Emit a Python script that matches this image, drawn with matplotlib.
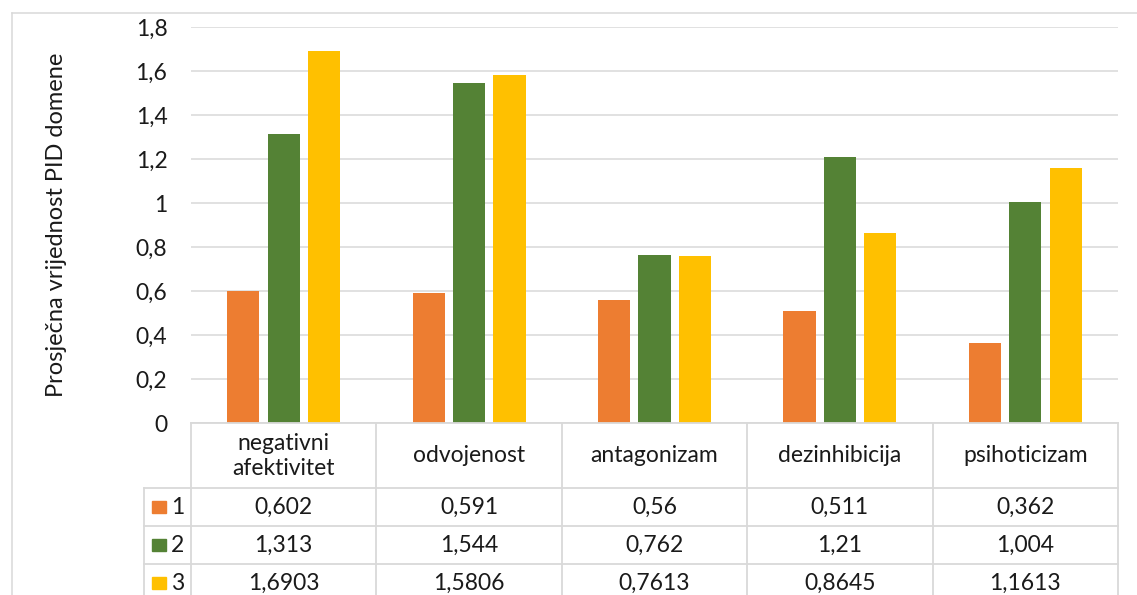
import matplotlib
matplotlib.use("Agg")
import matplotlib.pyplot as plt
from matplotlib.transforms import blended_transform_factory
from matplotlib.patches import Rectangle
from matplotlib.lines import Line2D
import numpy as np

categories = ["negativni\nafektivitet", "odvojenost", "antagonizam", "dezinhibicija", "psihoticizam"]
series_names = ["1", "2", "3"]
s1 = [0.602, 0.591, 0.56, 0.511, 0.362]
s2 = [1.313, 1.544, 0.762, 1.21, 1.004]
s3 = [1.6903, 1.5806, 0.7613, 0.8645, 1.1613]
colors = ["#ED7D31", "#548235", "#FFC000"]
yticks = [0, 0.2, 0.4, 0.6, 0.8, 1.0, 1.2, 1.4, 1.6, 1.8]
ylabel = "Prosječna vrijednost PID domene"

plt.rcParams['font.family'] = ['Lato', 'DejaVu Sans']
W, H = 1137, 595
fig = plt.figure(figsize=(W / 100, H / 100), dpi=100)

def fx(x):
    return x / W

def fy(y):
    return 1 - y / H

ax_l, ax_r, ax_t, ax_b = 191, 1118, 27, 423
ax = fig.add_axes([fx(ax_l), fy(ax_b), fx(ax_r) - fx(ax_l), fy(ax_t) - fy(ax_b)])
grid_c = "#D9D9D9"
fs = 16.5
txt_c = "#1a1a1a"

x = np.arange(len(categories))
bw = 0.173
sp = 0.218
for i, (vals, c) in enumerate(zip([s1, s2, s3], colors)):
    ax.bar(x + (i - 1) * sp, vals, width=bw, color=c, zorder=3)

ax.set_xlim(-0.5, len(categories) - 0.5)
ax.set_ylim(0, 1.8)
ax.set_yticks(yticks)
ax.set_yticklabels([f"{v:g}".replace(".", ",") for v in yticks], fontsize=fs, color=txt_c)
ax.set_xticks([])
ax.tick_params(axis='y', length=0, pad=17)
ax.yaxis.grid(True, color=grid_c, lw=1.1, zorder=0)
for s in ax.spines.values():
    s.set_visible(False)

fig.text(fx(57), fy((ax_t + ax_b) / 2), ylabel, rotation=90, ha='center', va='center',
         fontsize=fs + 0.5, color=txt_c)

# outer chart border
fig.add_artist(Line2D([fx(12), 1], [fy(13), fy(13)], color=grid_c, lw=1.1))
fig.add_artist(Line2D([fx(12), fx(12)], [fy(13), 0], color=grid_c, lw=1.1))

# data table
tr = blended_transform_factory(ax.transData, fig.transFigure)
row_lines = [488, 526, 564]
for k in range(len(categories) + 1):
    fig.add_artist(Line2D([k - 0.5, k - 0.5], [fy(ax_b), 0], transform=tr, color=grid_c, lw=1.3))
fig.add_artist(Line2D([fx(ax_l), fx(ax_r)], [fy(ax_b), fy(ax_b)], color=grid_c, lw=1.3))
fig.add_artist(Line2D([fx(144), fx(144)], [fy(row_lines[0]), 0], color=grid_c, lw=1.3))
for yl in row_lines:
    fig.add_artist(Line2D([fx(144), fx(ax_r)], [fy(yl), fy(yl)], color=grid_c, lw=1.3))

for k, cat in enumerate(categories):
    fig.text(k, fy(456), cat, transform=tr, ha='center', va='center', fontsize=fs,
             linespacing=1.25, color=txt_c)

row_centers = [507, 545, 583]
for name, vals, c, yc in zip(series_names, [s1, s2, s3], colors, row_centers):
    fig.add_artist(Rectangle((fx(152), fy(yc + 6)), fx(14), 12 / H, color=c, transform=fig.transFigure))
    fig.text(fx(178), fy(yc), name, ha='center', va='center', fontsize=fs, color=txt_c)
    for k, v in enumerate(vals):
        fig.text(k, fy(yc), f"{v:g}".replace(".", ","), transform=tr, ha='center', va='center',
                 fontsize=fs, color=txt_c)

fig.savefig("out.png", dpi=100)
